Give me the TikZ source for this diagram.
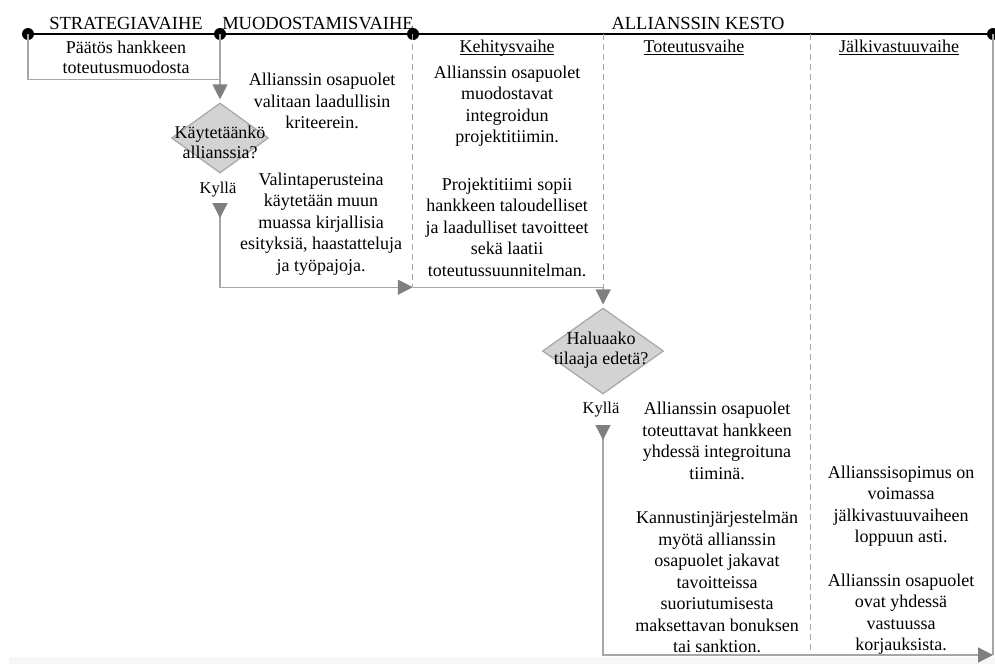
\documentclass[tikz,border=0pt]{standalone}
\usepackage{fontspec}
\setmainfont{Liberation Serif}
\usetikzlibrary{shapes.geometric,arrows.meta}
\definecolor{lg}{HTML}{A6A6A6}
\definecolor{ag}{HTML}{7F7F7F}
\definecolor{df}{HTML}{D3D3D3}
\newcommand\hdul[1]{\setbox0\hbox{#1}\rlap{\rule[-2.5pt]{\wd0}{0.9pt}}\box0}
\begin{document}
\begin{tikzpicture}[x=1pt,y=-1pt,
  body/.style={align=center,font=\fontsize{18}{21.5}\selectfont,inner sep=0pt},
  dtext/.style={align=center,font=\fontsize{18}{20}\selectfont,inner sep=0pt},
  hdr/.style={anchor=base,font=\fontsize{18.5}{20}\selectfont,inner sep=0pt},
  sub/.style={anchor=base,font=\fontsize{18}{20}\selectfont,inner sep=0pt},
  yes/.style={font=\fontsize{16.5}{18}\selectfont,inner sep=0pt},
  dotn/.style={circle,fill=black,inner sep=0pt,minimum size=12pt},
  dec/.style={diamond,draw=lg,fill=df,line width=1.2pt,inner sep=0pt},
  region/.style={inner sep=0pt,draw=none},
  gline/.style={draw=lg,line width=1.3pt},
  dline/.style={draw=lg,line width=0.9pt,dash pattern=on 6pt off 4pt},
  conn/.style={draw=lg,line width=1.3pt,-{Triangle[width=15pt,length=15pt,color=ag]}},
  conn2/.style={draw=lg,line width=1.3pt,{Triangle[reversed,width=15pt,length=15pt,color=ag]}-{Triangle[width=15pt,length=15pt,color=ag]}},
]
\useasboundingbox (0,0) rectangle (995,664);
\fill[black!3] (9,657) rectangle (995,664);

% timeline dots
\node[dotn] (p0) at (28,34) {};
\node[dotn] (p1) at (220,34) {};
\node[dotn] (p2) at (413,34) {};
\node[dotn] (p3) at (993,34) {};
\draw[line width=1.2pt] (p0.center) -- (p1.center) -- (p2.center) -- (p3.center);

% headers
\node[hdr] (h1) at (126,29) {STRATEGIAVAIHE};
\node[hdr] (h2) at (318,29) {MUODOSTAMISVAIHE};
\node[hdr] (h3) at (698,29) {ALLIANSSIN KESTO};

% box 1
\node[region,minimum width=192pt,minimum height=45pt,anchor=north west] (b1) at (28,34) {};
\draw[gline] (b1.north west) -- (b1.south west) -- (b1.south east);
\node[dtext] (b1t) at (126,57) {Päätös hankkeen\\toteutusmuodosta};

% decision 1
\node[dec,minimum width=97pt,minimum height=70pt] (d1) at (220,138) {};
\node[dtext] (d1t) at (220,142) {Käytetäänkö\\allianssia?};
\draw[conn,shorten >=3pt] (p1.center) -- (d1.north);
\node[yes] (ky1) at (218,190) {Kyllä};

% Kehitysvaihe region
\node[region,minimum width=190pt,minimum height=253pt] (kbox) at (508,160.5) {};
\draw[dline] (kbox.north west) -- (kbox.south west);
\draw[dline] (kbox.north east) -- (kbox.south east);
\draw[gline] (kbox.south west) -- (kbox.south east);

\coordinate (k1s) at (220,203);
\draw[conn2] (k1s) |- (kbox.south west);

% decision 2
\node[dec,minimum width=121pt,minimum height=86pt] (d2) at (603,351) {};
\node[dtext] (d2t) at (601,350) {Haluaako\\tilaaja edetä?};
\draw[conn,shorten >=3pt] (kbox.south east) -- (d2.north);
\node[yes] (ky2) at (601,410) {Kyllä};

\coordinate (k2s) at (603,425);
\coordinate (endpt) at (993,655);
\draw[conn2] (k2s) |- (endpt);

% right border and dashed separator
\coordinate (t3) at (810,34);
\coordinate (b3) at (810,655);
\draw[dline] (t3) -- (b3);
\draw[gline] (p3.center) -- (endpt);

% sub headers
\node[sub] (s1) at (507,52) {\hdul{Kehitysvaihe}};
\node[sub] (s2) at (694,52) {\hdul{Toteutusvaihe}};
\node[sub] (s3) at (899,52) {\hdul{Jälkivastuuvaihe}};

% texts
\node[body] (m1) at (322,101) {Allianssin osapuolet\\valitaan laadullisin\\kriteerein.};
\node[body] (m2) at (321,224) {Valintaperusteina\\käytetään muun\\muassa kirjallisia\\esityksiä, haastatteluja\\ja työpajoja.};
\node[body] (k1) at (507,106) {Allianssin osapuolet\\muodostavat\\integroidun\\projektitiimin.};
\node[body] (k2) at (507,227) {Projektitiimi sopii\\hankkeen taloudelliset\\ja laadulliset tavoitteet\\sekä laatii\\toteutussuunnitelman.};
\node[body] (t1) at (717,441) {Allianssin osapuolet\\toteuttavat hankkeen\\yhdessä integroituna\\tiiminä.};
\node[body] (t2) at (717,582) {Kannustinjärjestelmän\\myötä allianssin\\osapuolet jakavat\\tavoitteissa\\suoriutumisesta\\maksettavan bonuksen\\tai sanktion.};
\node[body] (j1) at (901,506) {Allianssisopimus on\\voimassa\\jälkivastuuvaiheen\\loppuun asti.};
\node[body] (j2) at (901,614) {Allianssin osapuolet\\ovat yhdessä\\vastuussa\\korjauksista.};
\end{tikzpicture}
\end{document}
